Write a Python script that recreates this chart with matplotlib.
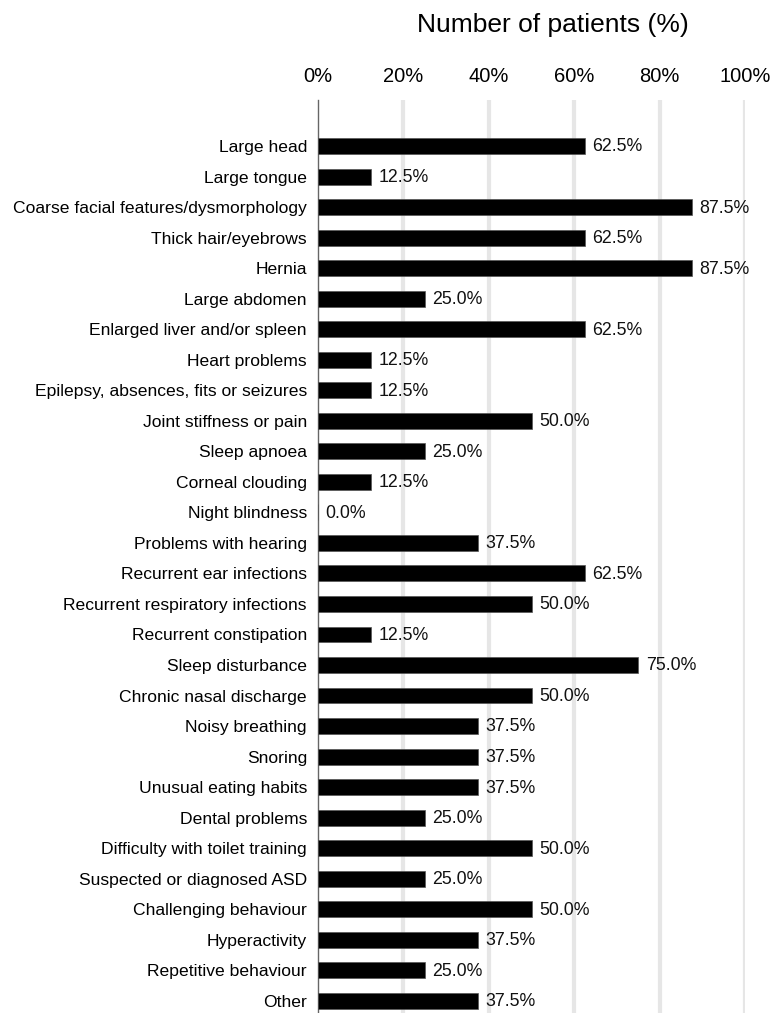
import matplotlib.pyplot as plt
import numpy as np

plt.rcParams["font.family"] = ["Liberation Sans", "DejaVu Sans"]

symptoms = [
    "Large head", "Large tongue", "Coarse facial features/dysmorphology",
    "Thick hair/eyebrows", "Hernia", "Large abdomen",
    "Enlarged liver and/or spleen", "Heart problems",
    "Epilepsy, absences, fits or seizures", "Joint stiffness or pain",
    "Sleep apnoea", "Corneal clouding", "Night blindness",
    "Problems with hearing", "Recurrent ear infections",
    "Recurrent respiratory infections", "Recurrent constipation",
    "Sleep disturbance", "Chronic nasal discharge", "Noisy breathing",
    "Snoring", "Unusual eating habits", "Dental problems",
    "Difficulty with toilet training", "Suspected or diagnosed ASD",
    "Challenging behaviour", "Hyperactivity", "Repetitive behaviour", "Other",
]
percent = [
    62.5, 12.5, 87.5, 62.5, 87.5, 25.0, 62.5, 12.5, 12.5, 50.0,
    25.0, 12.5, 0.0, 37.5, 62.5, 50.0, 12.5, 75.0, 50.0, 37.5,
    37.5, 37.5, 25.0, 50.0, 25.0, 50.0, 37.5, 25.0, 37.5,
]
xticks = [0, 20, 40, 60, 80, 100]

fig = plt.figure(figsize=(7.72, 10.13), dpi=100)
ax = fig.add_axes([0.412, 0.0, 0.553, 0.901])

y = np.arange(len(symptoms))
ax.barh(y, percent, height=0.52, color="black", edgecolor="#555555", linewidth=0.5, zorder=3)

for yi, v in zip(y, percent):
    ax.text(v + 1.8, yi + 0.03, f"{v:.1f}%", va="center", ha="left", fontsize=12.8, color="#111111")

ax.set_xlim(0, 100)
ax.set_ylim(len(symptoms) - 0.6, -1.5)
ax.set_yticks(y)
ax.set_yticklabels(symptoms, fontsize=12.6)
ax.set_xticks(xticks)
ax.set_xticklabels([f"{t}%" for t in xticks], fontsize=14.5)
ax.xaxis.tick_top()
ax.tick_params(axis="y", length=0, pad=8)
ax.tick_params(axis="x", length=0, pad=10)

for t in xticks[1:]:
    ax.axvline(t, color="#e6e6e6", linewidth=3, zorder=1)

for s in ["top", "right", "bottom"]:
    ax.spines[s].set_visible(False)
ax.spines["left"].set_color("#666666")
ax.spines["left"].set_linewidth(1)

fig.text(0.716, 0.975, "Number of patients (%)", ha="center", va="center", fontsize=19)

fig.savefig("out.png", dpi=100)
